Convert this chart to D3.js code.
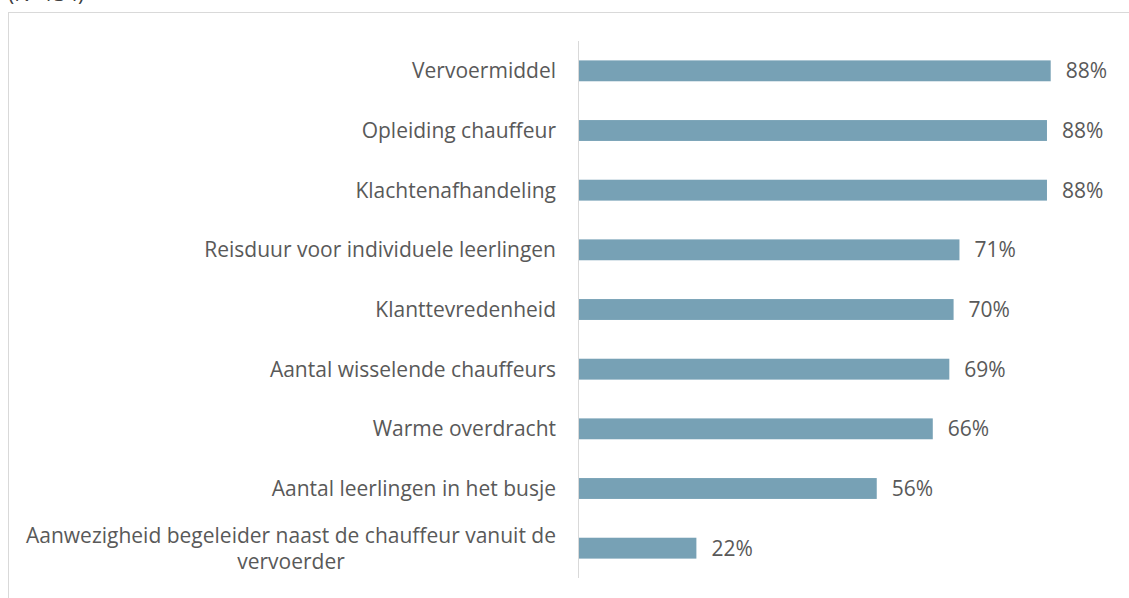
<!DOCTYPE html>
<html>
<head>
<meta charset="utf-8">
<script src="https://cdn.jsdelivr.net/npm/d3@7"></script>
<style>
  body { margin: 0; background: #fff; }
  svg { display: block; font-family: "Open Sans", sans-serif; }
</style>
</head>
<body>
<svg id="chart" width="1129" height="598"></svg>
<script>
const categories = [
  'Vervoermiddel',
  'Opleiding chauffeur',
  'Klachtenafhandeling',
  'Reisduur voor individuele leerlingen',
  'Klanttevredenheid',
  'Aantal wisselende chauffeurs',
  'Warme overdracht',
  'Aantal leerlingen in het busje',
  'Aanwezigheid begeleider naast de chauffeur vanuit de vervoerder'
]
const values = [88.4, 87.7, 87.7, 71.3, 70.2, 69.4, 66.3, 55.8, 22.0]
const valueLabels = ['88%', '88%', '88%', '71%', '70%', '69%', '66%', '56%', '22%']
// wrapped category labels, Excel style
const labelLines = [
  ['Vervoermiddel'],
  ['Opleiding chauffeur'],
  ['Klachtenafhandeling'],
  ['Reisduur voor individuele leerlingen'],
  ['Klanttevredenheid'],
  ['Aantal wisselende chauffeurs'],
  ['Warme overdracht'],
  ['Aantal leerlingen in het busje'],
  ['Aanwezigheid begeleider naast de chauffeur vanuit de', 'vervoerder']
]

const svg = d3.select('#chart')
const textColor = '#595959'
const barColor = '#77a1b5'
const fontSize = '21px'

// frame of the chart area (extends beyond the picture)
svg.append('rect')
  .attr('x', 8.5)
  .attr('y', 12.5)
  .attr('width', 1200)
  .attr('height', 700)
  .attr('fill', 'none')
  .attr('stroke', '#d9d9d9')

// subtitle above the frame, cut off at the top like the original
svg.append('text')
  .attr('x', 8)
  .attr('y', 1)
  .attr('fill', '#404040')
  .style('font-size', fontSize)
  .text('(N=134)')

const x = d3.scaleLinear()
  .domain([0, 100])
  .range([579, 1112.6])

const y = d3.scaleBand()
  .domain(categories)
  .range([41, 578])
  .paddingInner(0.65)
  .paddingOuter(0.325)

svg.append('g')
  .selectAll('rect')
  .data(categories)
  .join('rect')
  .attr('x', x(0))
  .attr('y', d => y(d))
  .attr('width', (d, i) => x(values[i]) - x(0))
  .attr('height', y.bandwidth())
  .attr('fill', barColor)

// vertical category axis line
svg.append('line')
  .attr('x1', 578.5)
  .attr('x2', 578.5)
  .attr('y1', 41)
  .attr('y2', 578)
  .attr('stroke', '#d9d9d9')
  .attr('stroke-width', 1)

// value labels
svg.append('g')
  .selectAll('text')
  .data(categories)
  .join('text')
  .attr('x', (d, i) => x(values[i]) + 15)
  .attr('y', d => y(d) + y.bandwidth() / 2)
  .attr('dy', '0.35em')
  .attr('fill', textColor)
  .style('font-size', fontSize)
  .text((d, i) => valueLabels[i])

// category labels
const labelRight = 556
const lineHeight = 26
const catGroups = svg.append('g')
  .selectAll('g')
  .data(categories)
  .join('g')

catGroups.each(function (d, i) {
  const g = d3.select(this)
  const lines = labelLines[i]
  const cy = y(d) + y.bandwidth() / 2
  const t = g.append('text')
    .attr('fill', textColor)
    .style('font-size', fontSize)
  if (lines.length === 1) {
    t.attr('x', labelRight)
      .attr('y', cy)
      .attr('dy', '0.35em')
      .attr('text-anchor', 'end')
      .text(lines[0])
  } else {
    // wrapped labels: centered on the widest line, right edge at labelRight
    t.attr('text-anchor', 'middle')
    const spans = lines.map((line, k) => t.append('tspan')
      .attr('y', cy + (k - (lines.length - 1) / 2) * lineHeight)
      .attr('dy', '0.35em')
      .text(line))
    const widest = d3.max(spans, s => s.node().getComputedTextLength())
    spans.forEach(s => s.attr('x', labelRight - widest / 2))
  }
})
</script>
</body>
</html>
